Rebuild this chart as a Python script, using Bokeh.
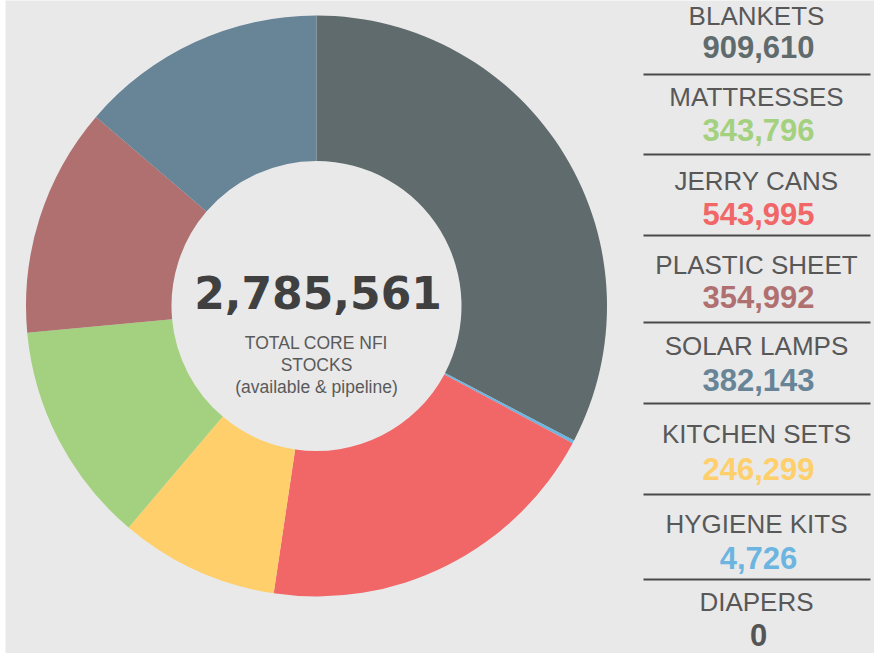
import math
from bokeh.plotting import figure
from bokeh.models import Range1d, ColumnDataSource
from bokeh.core.properties import value
from bokeh.embed import file_html
from bokeh.resources import INLINE

# ---------------- data ----------------
categories = ["Blankets", "Diapers", "Hygiene kits", "Jerry cans",
              "Kitchen sets", "Mattresses", "Plastic sheet", "Solar lamps"]
stocks = [909610, 0, 4726, 543995, 246299, 343796, 354992, 382143]
colors = ["#5f6b6d", "#555555", "#6cb5e0", "#f16667",
          "#fecf6a", "#a3d17f", "#b07070", "#688497"]
legend_order = ["Blankets", "Mattresses", "Jerry cans", "Plastic sheet",
                "Solar lamps", "Kitchen sets", "Hygiene kits", "Diapers"]
center_caption = ["TOTAL CORE NFI", "STOCKS", "(available & pipeline)"]

# ---------------- layout (reference pixel space) ----------------
H = 653.0
def Y(py):
    return H - py

CX, CY = 316.0, 305.5
R_OUT, R_IN = 290.5, 145.0
LEG_X = 757.0
NAME_MID = [15.5, 96, 180, 264, 345, 433, 523, 601.5]
NUM_MID = [46, 129, 213, 296, 379.5, 468, 557.5, 634]
SEP_Y = [74, 154, 235, 322, 403, 494, 579]
SEP_X0, SEP_X1 = 643.0, 870.0

BG = "#e9e9e9"
FONT = "Liberation Sans"

p = figure(width=874, height=653, output_backend="svg", toolbar_location=None,
           x_range=Range1d(5, 874), y_range=Range1d(0, 653),
           x_axis_type=None, y_axis_type=None,
           min_border=0, min_border_left=5,
           background_fill_color=BG, border_fill_color="white")
p.outline_line_color = None
p.grid.visible = False

# ---------------- donut ----------------
total = sum(stocks)
wc, wv, wcol, starts, ends = [], [], [], [], []
cum = 0
for c, v, col in zip(categories, stocks, colors):
    a0 = math.pi / 2 - 2 * math.pi * cum / total
    cum += v
    a1 = math.pi / 2 - 2 * math.pi * cum / total
    if v > 0:
        wc.append(c); wv.append(v); wcol.append(col)
        starts.append(a0); ends.append(a1)

src = ColumnDataSource(dict(cat=wc, val=wv, color=wcol, start=starts, end=ends))
p.annular_wedge(x=CX, y=Y(CY), inner_radius=R_IN, outer_radius=R_OUT,
                start_angle="start", end_angle="end", direction="clock",
                fill_color="color", line_color=None, source=src)

# center texts
p.text(x=[CX + 1.5], y=[Y(291.5)], text=[f"{total:,}"],
       text_font=value("DejaVu Sans"), text_font_style="bold",
       text_font_size="44px", text_color="#404040",
       text_align="center", text_baseline="middle")
p.text(x=[CX] * 3, y=[Y(342.5), Y(364), Y(386)], text=center_caption,
       text_font=value(FONT), text_font_size="17.5px", text_color="#5a5a5a",
       text_align="center", text_baseline="middle")

# ---------------- right-hand list ----------------
lookup = {c: (v, col) for c, v, col in zip(categories, stocks, colors)}
names = [c.upper() for c in legend_order]
nums = [f"{lookup[c][0]:,}" for c in legend_order]
ncols = [lookup[c][1] for c in legend_order]

p.text(x=[LEG_X - 1] * len(names), y=[Y(b) for b in NAME_MID], text=names,
       text_font=value(FONT), text_font_size="26px", text_color="#585858",
       text_align="center", text_baseline="middle")
p.text(x=[LEG_X + 1] * len(nums), y=[Y(b) for b in NUM_MID], text=nums,
       text_font=value(FONT), text_font_style="bold", text_font_size="31px",
       text_color=ncols, text_align="center", text_baseline="middle")

p.segment(x0=[SEP_X0] * len(SEP_Y), x1=[SEP_X1] * len(SEP_Y),
          y0=[Y(s) for s in SEP_Y], y1=[Y(s) for s in SEP_Y],
          line_color="#4a4a4a", line_width=2)

open("out.html", "w").write(file_html(p, INLINE))
